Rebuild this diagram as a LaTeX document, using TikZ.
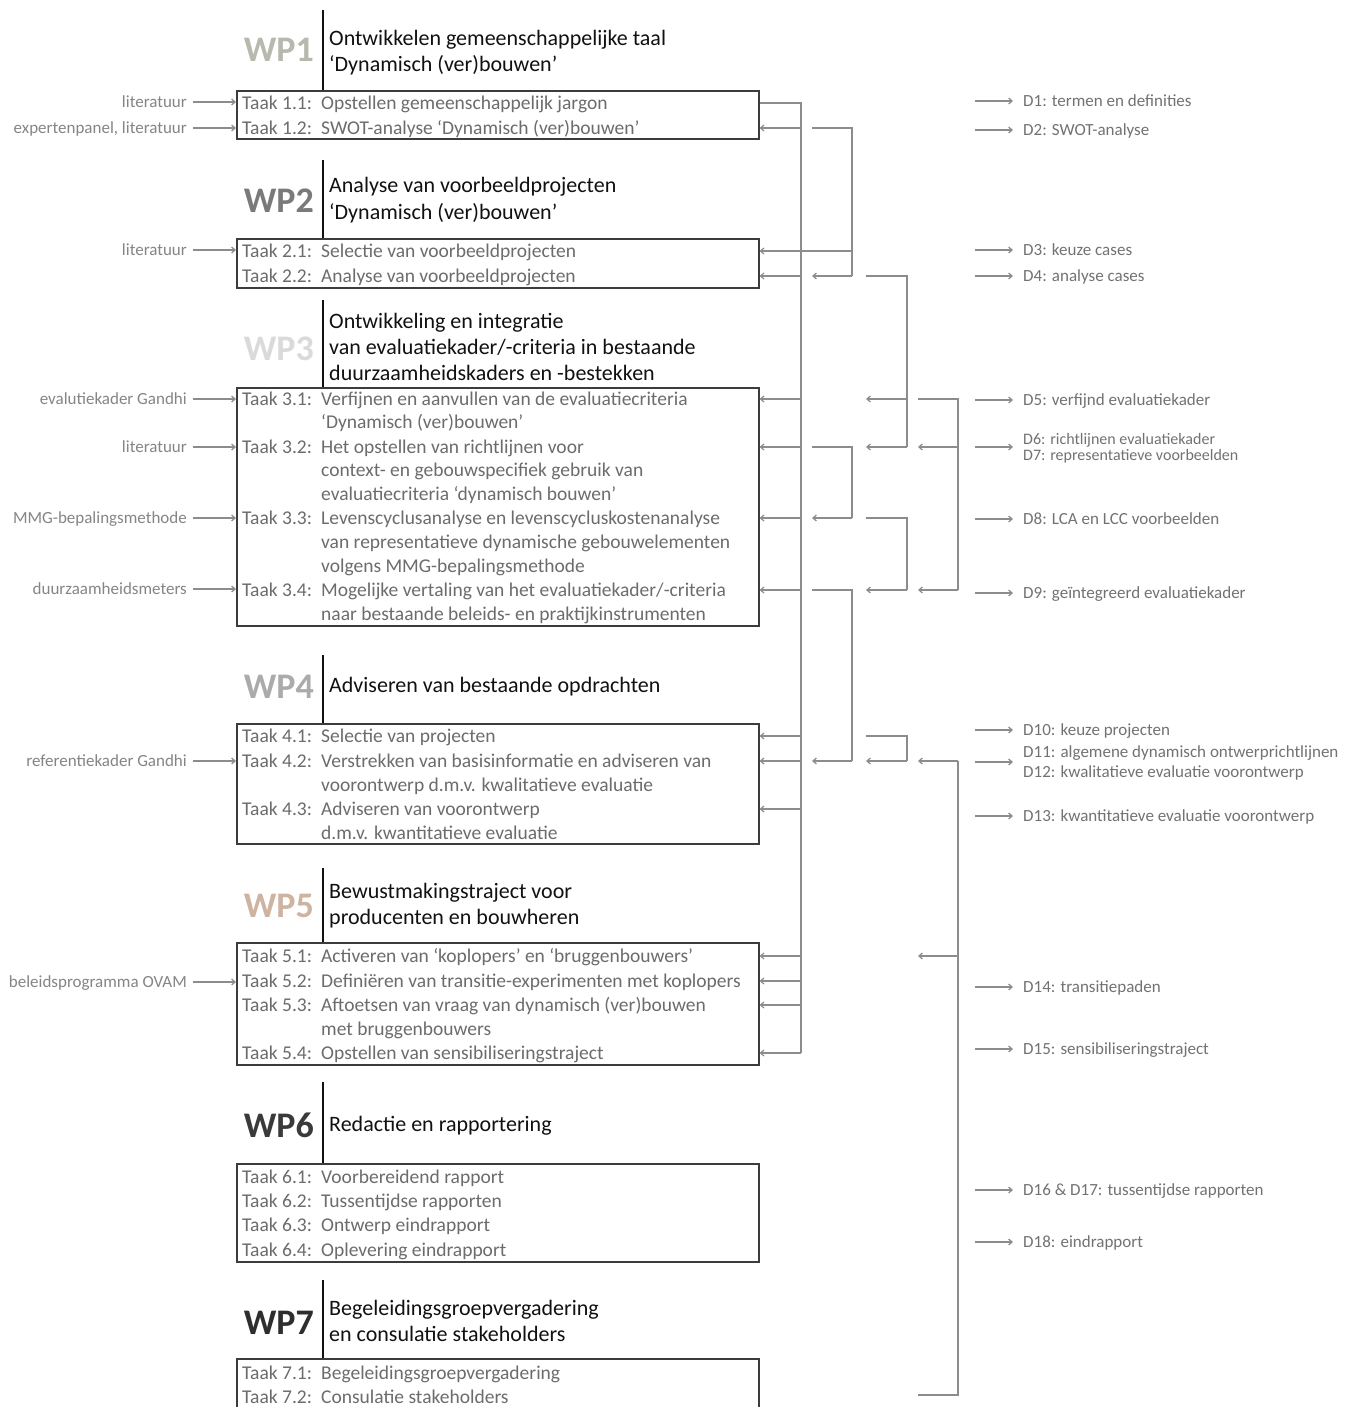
\documentclass[tikz,border=0pt]{standalone}
\usepackage{fontspec}
\setmainfont{Carlito}
\usetikzlibrary{arrows.meta,calc}
\definecolor{taskc}{HTML}{6C6C6C}
\definecolor{inc}{HTML}{858585}
\definecolor{dc}{HTML}{727272}
\definecolor{linec}{HTML}{8C8C8C}
\definecolor{boxc}{HTML}{3C3C3C}
\definecolor{titc}{HTML}{111111}
\definecolor{wpa}{HTML}{B8B8AE}
\definecolor{wpb}{HTML}{7A7A7A}
\definecolor{wpc}{HTML}{DADADA}
\definecolor{wpd}{HTML}{ABABAB}
\definecolor{wpe}{HTML}{CDB3A0}
\definecolor{wpf}{HTML}{3A3A3A}
\definecolor{wpg}{HTML}{2E2E2E}
\newcommand{\taskfont}{\fontsize{19.5}{23}\selectfont}
\newcommand{\titfont}{\fontsize{22}{26}\selectfont}
\newcommand{\smallfont}{\fontsize{17}{20}\selectfont}
\newcommand{\tightfont}{\fontsize{16}{17}\selectfont}
\newcommand{\wpfont}{\fontsize{36}{40}\selectfont\bfseries}
\tikzset{
  tasklbl/.style={anchor=base west, inner sep=0pt, text height=13pt, text depth=0pt, font=\taskfont, text=taskc},
  inlbl/.style={anchor=base east, inner sep=0pt, text height=11pt, text depth=0pt, font=\smallfont, text=inc},
  dlbl/.style={anchor=base west, inner sep=0pt, text height=11pt, text depth=0pt, font=\smallfont, text=dc},
  wptitle/.style={anchor=base west, inner sep=0pt, font=\titfont, text=titc},
  wpnum/.style={anchor=base east, inner sep=0pt, font=\wpfont},
  wpbox/.style={draw=boxc, line width=1.6pt, minimum width=522pt, anchor=north west, inner sep=0pt},
  hline/.style={draw=titc, line width=1.2pt},
  conn/.style={draw=linec, line width=1.2pt},
  arr/.style={conn, -{Straight Barb[length=3.5pt,width=6pt]}}
}
\newcommand{\tasknode}[4]{\node[tasklbl] (#1) at (242,#3+6.5) {#2}; \node[tasklbl] (#1d) at (321,#3+6.5) {#4};}
\newcommand{\contline}[3]{\node[tasklbl] (#1) at (321,#2+6.5) {#3};}
\begin{document}
\begin{tikzpicture}[x=1pt,y=-1pt]
\useasboundingbox (0,0) rectangle (1362,1407);
\clip (0,0) rectangle (1362,1407);
\fill[white] (0,0) rectangle (1362,1407);

% ---------- boxes ----------
\node[wpbox, minimum height=48pt]  (b1) at (236,90) {};
\node[wpbox, minimum height=49pt]  (b2) at (236,238) {};
\node[wpbox, minimum height=238pt] (b3) at (236,387) {};
\node[wpbox, minimum height=120pt] (b4) at (236,723) {};
\node[wpbox, minimum height=122pt] (b5) at (236,942) {};
\node[wpbox, minimum height=98pt]  (b6) at (236,1163) {};
\node[wpbox, minimum height=80pt]  (b7) at (236,1358) {};

% ---------- header lines ----------
\coordinate (h1) at (323,10);
\coordinate (h2) at (323,160);
\coordinate (h3) at (323,300);
\coordinate (h4) at (323,655);
\coordinate (h5) at (323,868);
\coordinate (h6) at (323,1082);
\coordinate (h7) at (323,1280);
\draw[hline] (h1) -- (h1 |- b1.north);
\draw[hline] (h2) -- (h2 |- b2.north);
\draw[hline] (h3) -- (h3 |- b3.north);
\draw[hline] (h4) -- (h4 |- b4.north);
\draw[hline] (h5) -- (h5 |- b5.north);
\draw[hline] (h6) -- (h6 |- b6.north);
\draw[hline] (h7) -- (h7 |- b7.north);

% ---------- WP labels ----------
\node[wpnum, text=wpa] (wp1) at (314,50+12) {WP1};
\node[wpnum, text=wpb] (wp2) at (314,200+12) {WP2};
\node[wpnum, text=wpc] (wp3) at (314,348+12) {WP3};
\node[wpnum, text=wpd] (wp4) at (314,686+12) {WP4};
\node[wpnum, text=wpe] (wp5) at (314,905+12) {WP5};
\node[wpnum, text=wpf] (wp6) at (314,1125+12) {WP6};
\node[wpnum, text=wpg] (wp7) at (314,1322+12) {WP7};

% ---------- WP titles ----------
\node[wptitle] (ti1a) at (329,39+7) {Ontwikkelen gemeenschappelijke taal};
\node[wptitle] (ti1b) at (329,65+7) {‘Dynamisch (ver)bouwen’};
\node[wptitle] (ti2a) at (329,186+7) {Analyse van voorbeeldprojecten};
\node[wptitle] (ti2b) at (329,212+7) {‘Dynamisch (ver)bouwen’};
\node[wptitle] (ti3a) at (329,321+7) {Ontwikkeling en integratie};
\node[wptitle] (ti3b) at (329,347+7) {van evaluatiekader/-criteria in bestaande};
\node[wptitle] (ti3c) at (329,373+7) {duurzaamheidskaders en -bestekken};
\node[wptitle] (ti4a) at (329,685+7) {Adviseren van bestaande opdrachten};
\node[wptitle] (ti5a) at (329,891+7) {Bewustmakingstraject voor};
\node[wptitle] (ti5b) at (329,917+7) {producenten en bouwheren};
\node[wptitle] (ti6a) at (329,1124+7) {Redactie en rapportering};
\node[wptitle] (ti7a) at (329,1308+7) {Begeleidingsgroepvergadering};
\node[wptitle] (ti7b) at (329,1334+7) {en consulatie stakeholders};

% ---------- tasks ----------
\tasknode{t11}{Taak 1.1:}{103}{Opstellen gemeenschappelijk jargon}
\tasknode{t12}{Taak 1.2:}{128}{SWOT-analyse ‘Dynamisch (ver)bouwen’}
\tasknode{t21}{Taak 2.1:}{251}{Selectie van voorbeeldprojecten}
\tasknode{t22}{Taak 2.2:}{276}{Analyse van voorbeeldprojecten}
\tasknode{t31}{Taak 3.1:}{399}{Verfijnen en aanvullen van de evaluatiecriteria}
\contline{t31b}{422}{‘Dynamisch (ver)bouwen’}
\tasknode{t32}{Taak 3.2:}{447}{Het opstellen van richtlijnen voor}
\contline{t32b}{470}{context- en gebouwspecifiek gebruik van}
\contline{t32c}{494}{evaluatiecriteria ‘dynamisch bouwen’}
\tasknode{t33}{Taak 3.3:}{518}{Levenscyclusanalyse en levenscycluskostenanalyse}
\contline{t33b}{542}{van representatieve dynamische gebouwelementen}
\contline{t33c}{566}{volgens MMG-bepalingsmethode}
\tasknode{t34}{Taak 3.4:}{590}{Mogelijke vertaling van het evaluatiekader/-criteria}
\contline{t34b}{614}{naar bestaande beleids- en praktijkinstrumenten}
\tasknode{t41}{Taak 4.1:}{736}{Selectie van projecten}
\tasknode{t42}{Taak 4.2:}{761}{Verstrekken van basisinformatie en adviseren van}
\contline{t42b}{785}{voorontwerp d.m.v. kwalitatieve evaluatie}
\tasknode{t43}{Taak 4.3:}{809}{Adviseren van voorontwerp}
\contline{t43b}{833}{d.m.v. kwantitatieve evaluatie}
\tasknode{t51}{Taak 5.1:}{956}{Activeren van ‘koplopers’ en ‘bruggenbouwers’}
\tasknode{t52}{Taak 5.2:}{981}{Definiëren van transitie-experimenten met koplopers}
\tasknode{t53}{Taak 5.3:}{1005}{Aftoetsen van vraag van dynamisch (ver)bouwen}
\contline{t53b}{1029}{met bruggenbouwers}
\tasknode{t54}{Taak 5.4:}{1053}{Opstellen van sensibiliseringstraject}
\tasknode{t61}{Taak 6.1:}{1177}{Voorbereidend rapport}
\tasknode{t62}{Taak 6.2:}{1201}{Tussentijdse rapporten}
\tasknode{t63}{Taak 6.3:}{1225}{Ontwerp eindrapport}
\tasknode{t64}{Taak 6.4:}{1250}{Oplevering eindrapport}
\tasknode{t71}{Taak 7.1:}{1373}{Begeleidingsgroepvergadering}
\tasknode{t72}{Taak 7.2:}{1397}{Consulatie stakeholders}

% ---------- inputs ----------
\node[inlbl] (i1) at (187,102+5.5) {literatuur};
\node[inlbl] (i2) at (187,128+5.5) {expertenpanel, literatuur};
\node[inlbl] (i3) at (187,250+5.5) {literatuur};
\node[inlbl] (i4) at (187,399+5.5) {evalutiekader Gandhi};
\node[inlbl] (i5) at (187,447+5.5) {literatuur};
\node[inlbl] (i6) at (187,518+5.5) {MMG-bepalingsmethode};
\node[inlbl] (i7) at (187,589+5.5) {duurzaamheidsmeters};
\node[inlbl] (i8) at (187,761+5.5) {referentiekader Gandhi};
\node[inlbl] (i9) at (187,982+5.5) {beleidsprogramma OVAM};
\foreach \i/\b in {i1/b1,i2/b1,i3/b2,i4/b3,i5/b3,i6/b3,i7/b3,i8/b4,i9/b5}
  \draw[arr] ([xshift=6pt]\i.east) -- (\b.west |- \i.east);

% ---------- deliverables ----------
\node[dlbl] (d1)  at (1023,101+5.5) {D1: termen en definities};
\node[dlbl] (d2)  at (1023,130+5.5) {D2: SWOT-analyse};
\node[dlbl] (d3)  at (1023,250+5.5) {D3: keuze cases};
\node[dlbl] (d4)  at (1023,276+5.5) {D4: analyse cases};
\node[dlbl] (d5)  at (1023,400+5.5) {D5: verfijnd evaluatiekader};
\node[dlbl, font=\tightfont, text height=10pt] (d6)  at (1023,439+5) {D6: richtlijnen evaluatiekader};
\node[dlbl, font=\tightfont, text height=10pt] (d7)  at (1023,455+5) {D7: representatieve voorbeelden};
\node[dlbl] (d8)  at (1023,519+5.5) {D8: LCA en LCC voorbeelden};
\node[dlbl] (d9)  at (1023,593+5.5) {D9: geïntegreerd evaluatiekader};
\node[dlbl] (d10) at (1023,730+5.5) {D10: keuze projecten};
\node[dlbl] (d11) at (1023,752+5.5) {D11: algemene dynamisch ontwerprichtlijnen};
\node[dlbl] (d12) at (1023,772+5.5) {D12: kwalitatieve evaluatie voorontwerp};
\node[dlbl] (d13) at (1023,816+5.5) {D13: kwantitatieve evaluatie voorontwerp};
\node[dlbl] (d14) at (1023,987+5.5) {D14: transitiepaden};
\node[dlbl] (d15) at (1023,1049+5.5) {D15: sensibiliseringstraject};
\node[dlbl] (d16) at (1023,1190+5.5) {D16 \& D17: tussentijdse rapporten};
\node[dlbl] (d18) at (1023,1242+5.5) {D18: eindrapport};
\foreach \d in {d1,d2,d3,d4,d5,d8,d9,d10,d13,d14,d15,d16,d18}
  \draw[arr] ([xshift=-48pt]\d.west) -- ([xshift=-10pt]\d.west);
\draw[arr] ($(d6.west)!.5!(d7.west)+(-48pt,0)$) -- ($(d6.west)!.5!(d7.west)+(-10pt,0)$);
\draw[arr] ($(d11.west)!.5!(d12.west)+(-48pt,0)$) -- ($(d11.west)!.5!(d12.west)+(-10pt,0)$);

% ---------- connector network ----------
\coordinate (v1) at (801,0);
\coordinate (v2) at (852,0);
\coordinate (v3) at (907,0);
\coordinate (v4) at (958,0);
\coordinate (s1) at (812,0);
\coordinate (s2) at (866,0);
\coordinate (s3) at (918,0);
\coordinate (bot) at (918,1395);

% trunk from task 1.1
\draw[conn] (b1.east |- t11) -- (v1 |- t11) -- (v1 |- t54);
\foreach \r/\b in {t12/b1,t21/b2,t22/b2,t31/b3,t32/b3,t33/b3,t34/b3,t41/b4,t42/b4,t43/b4,t51/b5,t52/b5,t53/b5,t54/b5}
  \draw[arr] (v1 |- \r) -- (\b.east |- \r);

% brackets
\draw[conn] (s1 |- t12) -- (v2 |- t12) -- (v2 |- t22);
\draw[arr] (v2 |- t22) -- (s1 |- t22);
\draw[conn] (v2 |- t21) -- (v1 |- t21);

\draw[conn] (s2 |- t22) -- (v3 |- t22) -- (v3 |- t32);
\draw[arr] (v3 |- t31) -- (s2 |- t31);
\draw[arr] (v3 |- t32) -- (s2 |- t32);

\draw[conn] (s3 |- t31) -- (v4 |- t31) -- (v4 |- t34);
\draw[arr] (v4 |- t32) -- (s3 |- t32);
\draw[arr] (v4 |- t34) -- (s3 |- t34);

\draw[conn] (s1 |- t32) -- (v2 |- t32) -- (v2 |- t33);
\draw[arr] (v2 |- t33) -- (s1 |- t33);

\draw[conn] (s2 |- t33) -- (v3 |- t33) -- (v3 |- t34);
\draw[arr] (v3 |- t34) -- (s2 |- t34);

\draw[conn] (s1 |- t34) -- (v2 |- t34) -- (v2 |- t42);
\draw[arr] (v2 |- t42) -- (s1 |- t42);

\draw[conn] (s2 |- t41) -- (v3 |- t41) -- (v3 |- t42);
\draw[arr] (v3 |- t42) -- (s2 |- t42);

\draw[conn] (bot) -- (v4 |- bot) -- (v4 |- t42);
\draw[arr] (v4 |- t42) -- (s3 |- t42);
\draw[arr] (v4 |- t51) -- (s3 |- t51);
\end{tikzpicture}
\end{document}
